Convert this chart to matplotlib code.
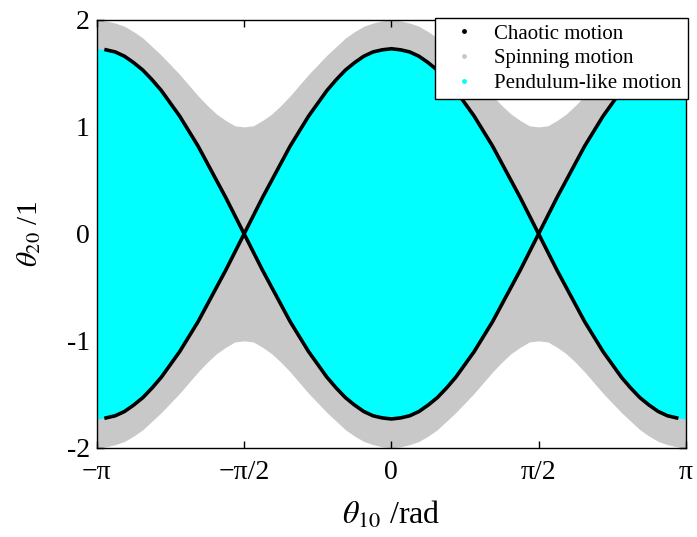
import numpy as np
import matplotlib
matplotlib.use("Agg")
import matplotlib.pyplot as plt
from matplotlib.lines import Line2D

# theta10 sample positions: multiples of pi/32 from -pi to pi
steps = list(range(-32, 33))
# separatrix half-height (pendulum-like boundary)
sep_half = [1.73, 1.72, 1.70, 1.66, 1.60, 1.53, 1.44, 1.34, 1.22, 1.10, 0.96, 0.82, 0.66, 0.50, 0.34, 0.17, 0.00,
            0.17, 0.34, 0.50, 0.66, 0.82, 0.96, 1.10, 1.22, 1.34, 1.44, 1.53, 1.60, 1.66, 1.70, 1.72, 1.73,
            1.72, 1.70, 1.66, 1.60, 1.53, 1.44, 1.34, 1.22, 1.10, 0.96, 0.82, 0.66, 0.50, 0.34, 0.17, 0.00,
            0.17, 0.34, 0.50, 0.66, 0.82, 0.96, 1.10, 1.22, 1.34, 1.44, 1.53, 1.60, 1.66, 1.70, 1.72, 1.73]
# outer spinning-region boundary half-height
outer_half = [2.00, 1.99, 1.97, 1.94, 1.89, 1.83, 1.75, 1.67, 1.58, 1.49, 1.39, 1.29, 1.20, 1.12, 1.06, 1.01, 1.00,
              1.01, 1.06, 1.12, 1.20, 1.29, 1.39, 1.49, 1.58, 1.67, 1.75, 1.83, 1.89, 1.94, 1.97, 1.99, 2.00,
              1.99, 1.97, 1.94, 1.89, 1.83, 1.75, 1.67, 1.58, 1.49, 1.39, 1.29, 1.20, 1.12, 1.06, 1.01, 1.00,
              1.01, 1.06, 1.12, 1.20, 1.29, 1.39, 1.49, 1.58, 1.67, 1.75, 1.83, 1.89, 1.94, 1.97, 1.99, 2.00]
xtick_labels = ["\u2212\u03c0", "\u2212\u03c0/2", "0", "\u03c0/2", "\u03c0"]
ytick_vals = [-2, -1, 0, 1, 2]
ytick_labels = ["-2", "-1", "0", "1", "2"]
legend_labels = ["Chaotic motion", "Spinning motion", "Pendulum-like motion"]

plt.rcParams["font.family"] = ["Liberation Serif", "DejaVu Serif"]
plt.rcParams["mathtext.fontset"] = "stix"

x = np.array(steps) * np.pi / 32
sep = np.array(sep_half)
outer = np.array(outer_half)

fig = plt.figure(figsize=(6.97, 5.37), dpi=100)
ax = fig.add_axes([0.139, 0.166, 0.845, 0.797])

gray = "#c8c8c8"
cyan = "#00ffff"
ax.fill_between(x, -outer, outer, color=gray, lw=0, zorder=1)
ax.fill_between(x, -sep, sep, color=cyan, lw=0, zorder=2)
ax.plot(x[1:-1], sep[1:-1], color="black", lw=2.6, zorder=3)
ax.plot(x[1:-1], -sep[1:-1], color="black", lw=2.6, zorder=3)

ax.set_xlim(-np.pi, np.pi)
ax.set_ylim(-2, 2)
ax.set_xticks(np.array([-2, -1, 0, 1, 2]) * np.pi / 2)
ax.set_xticklabels(xtick_labels)
ax.set_yticks(ytick_vals)
ax.set_yticklabels(ytick_labels)
ax.tick_params(direction="in", length=5, width=1, top=True, right=True,
               labelsize=20)
ax.tick_params(axis="x", pad=9)
ax.tick_params(axis="y", pad=5)
for s in ax.spines.values():
    s.set_linewidth(1)
    s.set_zorder(5)

ax.set_xlabel(r"$\theta_{10}$ /rad", fontsize=23, labelpad=10)
ax.set_ylabel(r"$\theta_{20}$ /1", fontsize=21, labelpad=17)

handles = [Line2D([], [], ls="none", marker="o", ms=2.5, color=c)
           for c in ["black", gray, cyan]]
leg = ax.legend(handles, legend_labels, loc="upper right", fontsize=15,
                bbox_to_anchor=(1.003, 1.005),
                frameon=True, fancybox=False, framealpha=1, edgecolor="black",
                borderaxespad=0, labelspacing=0.25, handlelength=2.2,
                handletextpad=0.35, borderpad=0.3)
leg.get_frame().set_linewidth(1)
leg.set_zorder(10)

fig.savefig("out.png", dpi=100)
